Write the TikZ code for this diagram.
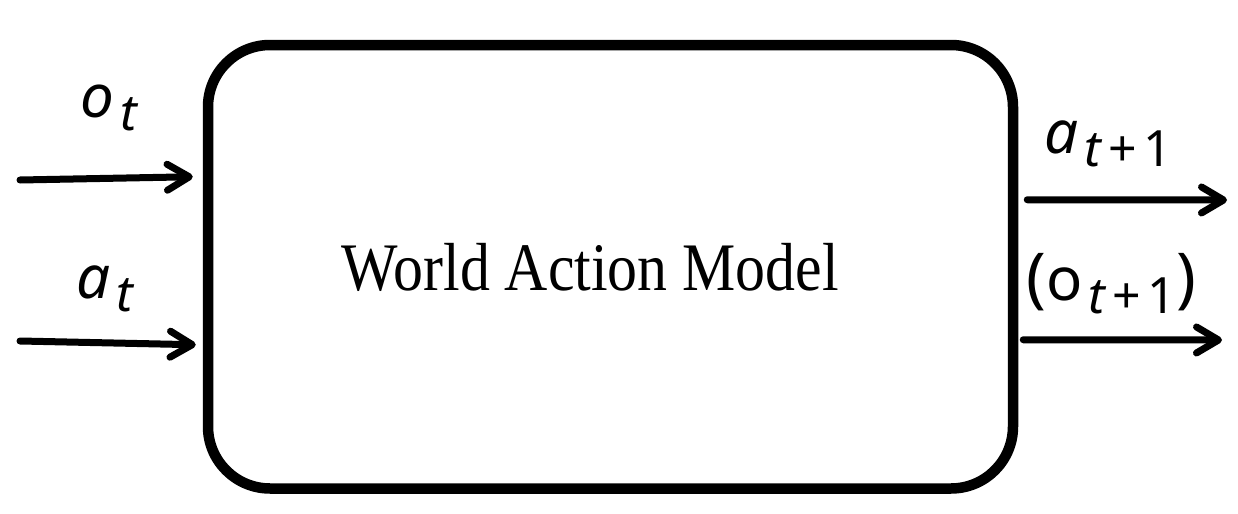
\documentclass[tikz,border=0pt]{standalone}
\usepackage{fontspec}
\setmainfont{Liberation Serif}
\newfontfamily\symfont{Noto Sans}
\usetikzlibrary{positioning}
\usetikzlibrary{calc}
\usetikzlibrary{arrows.meta}

\newcommand\symlbl[2]{{\symfont\fontsize{30}{30}\selectfont #1}\hspace{3pt}\raisebox{-6.5pt}{\symfont\fontsize{25}{25}\selectfont #2}}
\newcommand\symplus{\hspace{3.5pt}+\hspace{3.5pt}}

\begin{document}
\begin{tikzpicture}[
    x = 0.5pt
    , y = -0.5pt
    , wam/.style = {
      , draw = black
      , line width = 5.25pt
      , rounded corners = 31pt
      , minimum width = 402.5pt
      , minimum height = 221.75pt
      , inner sep = 0pt
    }
    , flow/.style = {
      , -{Straight Barb[round, length=11pt, width=13pt]}
      , line width = 3.5pt
      , line cap = round
    }
    , sym/.style = {
      , inner sep = 0pt
      , anchor = base west
    }
    ]
    \useasboundingbox (0,0) rectangle (1238,514);

    \node[wam] at (610.5,266.75) (wam) {};
    \node[anchor=base, inner sep=0pt] at (590.5,290) (title)
      {\scalebox{0.88}[1]{\fontsize{34}{40}\selectfont World Action Model}};

    % free ends of the connectors
    \coordinate (oin) at (20,180);
    \coordinate (ain) at (20,341);
    \coordinate (aout) at (1227,200);
    \coordinate (oout) at (1222,340);

    \draw[flow] (oin) -- ($ (wam.west) + (-10,-90) $);
    \draw[flow] (ain) -- ($ (wam.west) + (-7,78) $);
    \draw[flow] ($ (wam.east) + (9,-67) $) -- (aout);
    \draw[flow] ($ (wam.east) + (5,73) $) -- (oout);

    \node[sym] at (80,117) (olbl) {\symlbl{\itshape o}{\itshape t}};
    \node[sym] at (76,298) (albl) {\symlbl{\itshape a}{\itshape t}};
    \node[sym] at (1044,153) (anext) {\symlbl{\itshape a}{{\itshape t}\symplus 1}};
    \node[sym] at (1026,300) (onext)
      {{\symfont\fontsize{33}{34}\selectfont (}\symlbl{o}{{\itshape t}\symplus 1}{\symfont\fontsize{33}{34}\selectfont )}};
  \end{tikzpicture}
\end{document}
